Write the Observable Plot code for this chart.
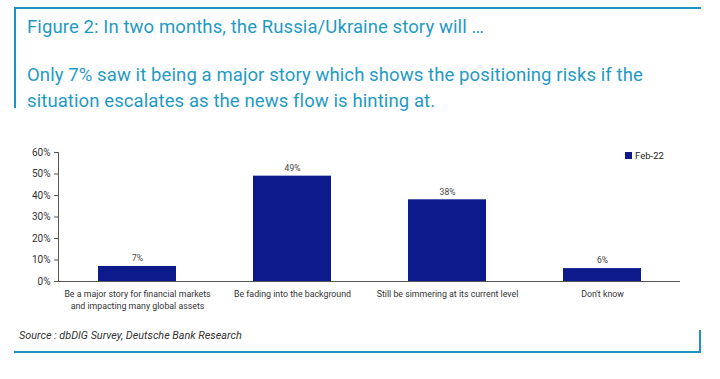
<!DOCTYPE html>
<html><head><meta charset="utf-8">
<script src="https://cdn.jsdelivr.net/npm/d3@7"></script>
<script src="https://cdn.jsdelivr.net/npm/@observablehq/plot@0.6"></script>
<style>
html,body{margin:0;padding:0;background:#fff;}
#wrap{position:relative;width:720px;height:379px;overflow:hidden;font-family:Roboto,"Liberation Sans",sans-serif;}
.hl{position:absolute;background:#1f93bd;}
.t{position:absolute;left:27px;color:#1f9ac4;font-size:18.5px;white-space:nowrap;letter-spacing:0.1px;}
#chart{position:absolute;left:0;top:140px;}
#legend{position:absolute;left:625px;top:150px;font-size:9.5px;color:#222;}
#legend span.sw{display:inline-block;width:7px;height:7px;background:#0c1a8c;margin-right:3px;vertical-align:-0px;}
#src{position:absolute;left:19px;top:329px;font-size:10.8px;font-style:italic;color:#333;}
</style></head>
<body><div id="wrap">
<div class="hl" style="left:14px;top:7px;width:687px;height:2px"></div>
<div class="hl" style="left:14px;top:7px;width:2px;height:101px"></div>
<div class="t" style="top:16px">Figure 2: In two months, the Russia/Ukraine story will …</div>
<div class="t" style="top:64px">Only 7% saw it being a major story which shows the positioning risks if the</div>
<div class="t" style="top:90px">situation escalates as the news flow is hinting at.</div>
<div id="chart"></div>
<div id="legend"><span class="sw"></span>Feb-22</div>
<div id="src">Source : dbDIG Survey, Deutsche Bank Research</div>
<div class="hl" style="left:14px;top:351px;width:687px;height:2px"></div>
<div class="hl" style="left:699px;top:330px;width:2px;height:23px"></div>
</div>
<script>
const categories = [
  "Be a major story for financial markets\nand impacting many global assets",
  "Be fading into the background",
  "Still be simmering at its current level",
  "Don't know"
];
const values = [7, 49, 38, 6];
const seriesName = "Feb-22";
const yTicks = [0, 10, 20, 30, 40, 50, 60];

const data = categories.map((c, i) => ({category: c, value: values[i]}));

const chart = Plot.plot({
  width: 720,
  height: 175,
  marginTop: 12,
  marginBottom: 34,
  marginLeft: 58,
  marginRight: 40,
  style: {fontFamily: "Roboto, 'Liberation Sans', sans-serif", fontSize: "9px", color: "#333", background: "transparent"},
  x: {domain: categories, paddingInner: 0.5, paddingOuter: 0.25, label: null},
  y: {domain: [0, 60], label: null},
  marks: [
    Plot.barY(data, {x: "category", y: "value", fill: "#0c1a8c"}),
    Plot.text(data, {x: "category", y: "value", text: d => d.value + "%", dy: -8, fontSize: 8.5, fill: "#444"}),
    Plot.axisY({ticks: yTicks, tickFormat: d => d + "%", tickSize: 4, tickPadding: 4, fontSize: 10, stroke: "#555"}),
    Plot.axisX({tickSize: 0, tickPadding: 7, fontSize: 8.8, lineHeight: 1.35}),
    Plot.frame({anchor: "left", stroke: "#555"}),
    Plot.ruleY([0], {stroke: "#555"})
  ]
});
document.getElementById("chart").appendChild(chart);
</script>
</body></html>
